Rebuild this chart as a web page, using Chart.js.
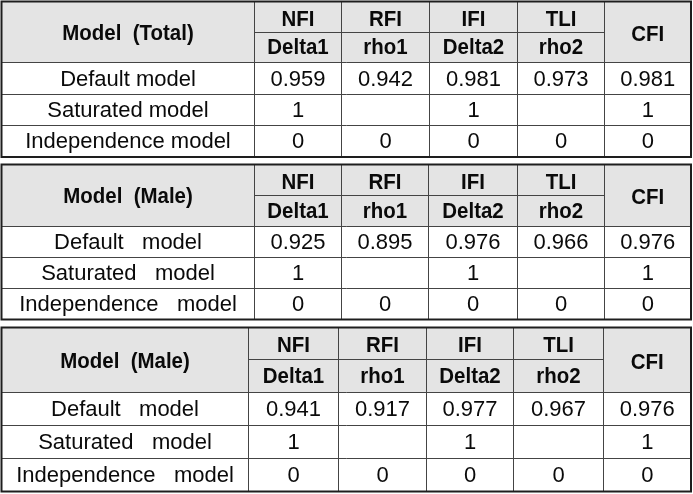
<!DOCTYPE html>
<html>
<head>
<meta charset="utf-8">
<script src="https://cdn.jsdelivr.net/npm/chart.js@4/dist/chart.umd.min.js"></script>
<style>
  html, body { margin: 0; padding: 0; background: #ffffff; }
  canvas { display: block; }
</style>
</head>
<body>
<canvas id="c" width="693" height="494"></canvas>
<script>
// ---------- DATA ----------
const tableTitles = ['Model  (Total)', 'Model  (Male)', 'Model  (Male)'];
const indexNames = ['NFI', 'RFI', 'IFI', 'TLI', 'CFI'];
const indexSubNames = ['Delta1', 'rho1', 'Delta2', 'rho2', null]; // CFI spans both header rows
const rowLabelsTotal = ['Default model', 'Saturated model', 'Independence model'];
const rowLabelsMale = ['Default   model', 'Saturated   model', 'Independence   model'];

const totalDefault = [0.959, 0.942, 0.981, 0.973, 0.981];
const totalSaturated = [1, null, 1, null, 1];
const totalIndependence = [0, 0, 0, 0, 0];

const male1Default = [0.925, 0.895, 0.976, 0.966, 0.976];
const male1Saturated = [1, null, 1, null, 1];
const male1Independence = [0, 0, 0, 0, 0];

const male2Default = [0.941, 0.917, 0.977, 0.967, 0.976];
const male2Saturated = [1, null, 1, null, 1];
const male2Independence = [0, 0, 0, 0, 0];

// ---------- LAYOUT (scale units) ----------
const layouts = [
  { rows: [1.5, 32.5, 62.5, 94.5, 125.5, 157], cols: [1.5, 254.5, 341.5, 429.5, 517.5, 604.5, 691] },
  { rows: [164.5, 195.5, 226.5, 257.5, 288.5, 319.5], cols: [1.5, 254.5, 341.5, 428.5, 517.5, 604.5, 691] },
  { rows: [327.5, 359.5, 392.5, 425.5, 458.5, 491.5], cols: [1.5, 248.5, 338.5, 426.5, 513.5, 603.5, 691] }
];

const tables = [
  { title: tableTitles[0], labels: rowLabelsTotal, rows: [totalDefault, totalSaturated, totalIndependence] },
  { title: tableTitles[1], labels: rowLabelsMale, rows: [male1Default, male1Saturated, male1Independence] },
  { title: tableTitles[2], labels: rowLabelsMale, rows: [male2Default, male2Saturated, male2Independence] }
];

function fmt(v, rowIdx) {
  if (v === null || v === undefined) return '';
  return rowIdx === 0 ? v.toFixed(3) : String(v);
}

function buildPoints(t, L) {
  const pts = [];
  const R = L.rows, C = L.cols;
  const mid = (a, b) => (a + b) / 2;
  pts.push({ x: mid(C[0], C[1]), y: mid(R[0], R[2]) + 1.5, text: t.title, bold: true });
  indexNames.forEach((name, j) => {
    if (indexSubNames[j] === null) {
      pts.push({ x: mid(C[j + 1], C[j + 2]), y: mid(R[0], R[2]) + 2.5, text: name, bold: true });
    } else {
      pts.push({ x: mid(C[j + 1], C[j + 2]), y: mid(R[0], R[1]) + 2.5, text: name, bold: true });
      pts.push({ x: mid(C[j + 1], C[j + 2]), y: mid(R[1], R[2]) + 0.5, text: indexSubNames[j], bold: true });
    }
  });
  t.rows.forEach((vals, i) => {
    pts.push({ x: mid(C[0], C[1]), y: mid(R[i + 2], R[i + 3]) + 1, text: t.labels[i], bold: false });
    vals.forEach((v, j) => {
      pts.push({ x: mid(C[j + 1], C[j + 2]), y: mid(R[i + 2], R[i + 3]) + 1, text: fmt(v, i), bold: false });
    });
  });
  return pts;
}

const FONT = '"Liberation Sans", Arial, Helvetica, sans-serif';

const tablePlugin = {
  id: 'tablePlugin',
  afterDatasetsDraw(chart) {
    const ctx = chart.ctx;
    const xs = chart.scales.x, ys = chart.scales.y;
    const px = v => xs.getPixelForValue(v);
    const py = v => ys.getPixelForValue(v);
    layouts.forEach((L, ti) => {
      const R = L.rows, C = L.cols;
      ctx.save();
      ctx.fillStyle = '#e4e4e4';
      ctx.fillRect(px(C[0]), py(R[0]), px(C[6]) - px(C[0]), py(R[2]) - py(R[0]));
      ctx.strokeStyle = '#444444';
      ctx.lineWidth = 1;
      ctx.beginPath();
      ctx.moveTo(px(C[1]), py(R[1]));
      ctx.lineTo(px(C[5]), py(R[1]));
      for (let r = 2; r <= 4; r++) {
        ctx.moveTo(px(C[0]), py(R[r]));
        ctx.lineTo(px(C[6]), py(R[r]));
      }
      for (let c = 1; c <= 5; c++) {
        ctx.moveTo(px(C[c]), py(R[0]));
        ctx.lineTo(px(C[c]), py(R[5]));
      }
      ctx.stroke();
      ctx.strokeStyle = '#1e1e1e';
      ctx.lineWidth = 2;
      ctx.strokeRect(px(C[0]), py(R[0]), px(C[6]) - px(C[0]), py(R[5]) - py(R[0]));
      ctx.restore();

      const meta = chart.getDatasetMeta(ti);
      const raw = chart.data.datasets[ti].data;
      meta.data.forEach((el, k) => {
        const d = raw[k];
        if (!d.text) return;
        ctx.save();
        ctx.fillStyle = '#0a0a0a';
        ctx.textAlign = 'center';
        ctx.textBaseline = 'middle';
        ctx.translate(el.x, el.y);
        if (d.bold) {
          ctx.font = 'bold 22px ' + FONT;
          ctx.scale(0.93, 1);
        } else {
          ctx.font = '22px ' + FONT;
        }
        ctx.fillText(d.text, 0, 0);
        ctx.restore();
      });
    });
  }
};

new Chart(document.getElementById('c'), {
  type: 'scatter',
  data: {
    datasets: tables.map((t, i) => ({
      label: t.title,
      data: buildPoints(t, layouts[i]),
      pointRadius: 0,
      pointHoverRadius: 0
    }))
  },
  options: {
    responsive: false,
    animation: false,
    devicePixelRatio: 1,
    layout: { padding: 0 },
    events: [],
    scales: {
      x: { type: 'linear', min: 0, max: 693, display: false },
      y: { type: 'linear', min: 0, max: 494, reverse: true, display: false }
    },
    plugins: {
      legend: { display: false },
      tooltip: { enabled: false }
    }
  },
  plugins: [tablePlugin]
});
</script>
</body>
</html>
